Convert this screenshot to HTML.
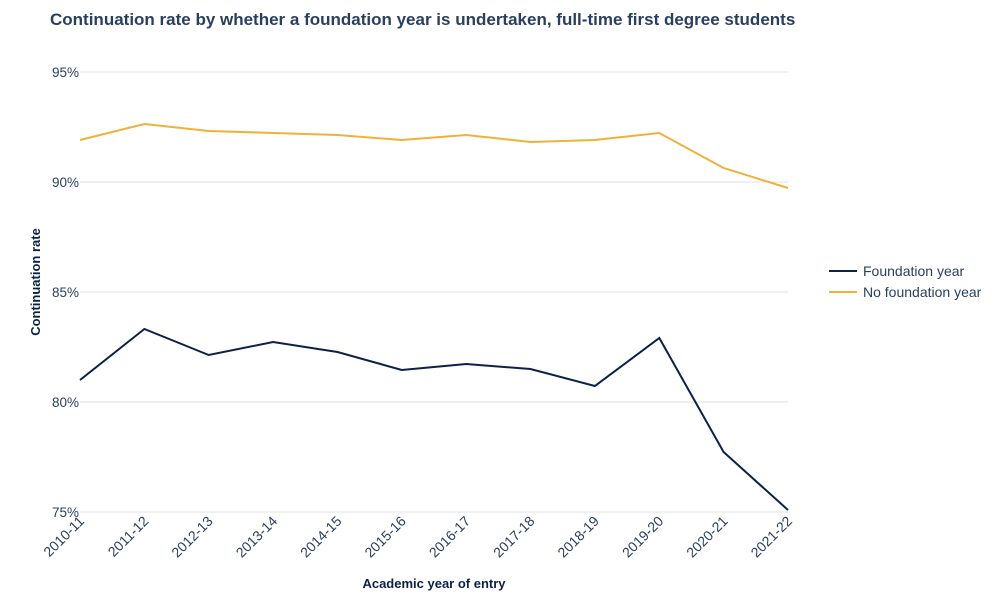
<!DOCTYPE html>
<html><head><meta charset="utf-8"><style>
body{margin:0;background:#fff;}
svg text{font-family:"Liberation Sans",Arial,sans-serif;}
</style></head><body>
<svg width="1000" height="600" xmlns="http://www.w3.org/2000/svg">
<rect width="1000" height="600" fill="#fff"/>
<text x="50" y="25" font-size="17" font-weight="bold" fill="#2a3f5f">Continuation rate by whether a foundation year is undertaken, full-time first degree students</text>
<g stroke="#e2e2e2" stroke-width="1">
<line x1="80" x2="788" y1="72" y2="72"/>
<line x1="80" x2="788" y1="182" y2="182"/>
<line x1="80" x2="788" y1="292" y2="292"/>
<line x1="80" x2="788" y1="402" y2="402"/>
<line x1="80" x2="788" y1="512" y2="512"/>
</g>
<g font-size="13.5" fill="#2a3f5f" text-anchor="end">
<text x="79" y="77">95%</text>
<text x="79" y="187">90%</text>
<text x="79" y="297">85%</text>
<text x="79" y="407">80%</text>
<text x="79" y="517">75%</text>
</g>
<g font-size="14" fill="#2a3f5f" text-anchor="end">
<text transform="translate(85,522) rotate(-45)">2010-11</text>
<text transform="translate(149.4,522) rotate(-45)">2011-12</text>
<text transform="translate(213.7,522) rotate(-45)">2012-13</text>
<text transform="translate(278.1,522) rotate(-45)">2013-14</text>
<text transform="translate(342.5,522) rotate(-45)">2014-15</text>
<text transform="translate(406.8,522) rotate(-45)">2015-16</text>
<text transform="translate(471.2,522) rotate(-45)">2016-17</text>
<text transform="translate(535.5,522) rotate(-45)">2017-18</text>
<text transform="translate(599.9,522) rotate(-45)">2018-19</text>
<text transform="translate(664.3,522) rotate(-45)">2019-20</text>
<text transform="translate(728.6,522) rotate(-45)">2020-21</text>
<text transform="translate(793,522) rotate(-45)">2021-22</text>
</g>
<text x="434" y="588" font-size="13" font-weight="bold" fill="#0b2148" text-anchor="middle">Academic year of entry</text>
<text transform="translate(40,282) rotate(-90)" font-size="13" font-weight="bold" fill="#0b2148" text-anchor="middle">Continuation rate</text>
<polyline fill="none" stroke="#f0b13a" stroke-width="2" points="80,140 144.4,124 208.7,131 273.1,133 337.5,135 401.8,140 466.2,135 530.5,142 594.9,140 659.3,133 723.6,168 788,188"/>
<polyline fill="none" stroke="#0b2148" stroke-width="2" points="80,380 144.4,329 208.7,355 273.1,342 337.5,352 401.8,370 466.2,364 530.5,369 594.9,386 659.3,338 723.6,452 788,510"/>
<line x1="829" x2="857" y1="271" y2="271" stroke="#0b2148" stroke-width="2"/>
<line x1="829" x2="857" y1="292" y2="292" stroke="#f0b13a" stroke-width="2"/>
<text x="863" y="276" font-size="14" fill="#2a3f5f">Foundation year</text>
<text x="863" y="297" font-size="14" fill="#2a3f5f">No foundation year</text>
</svg>
</body></html>
